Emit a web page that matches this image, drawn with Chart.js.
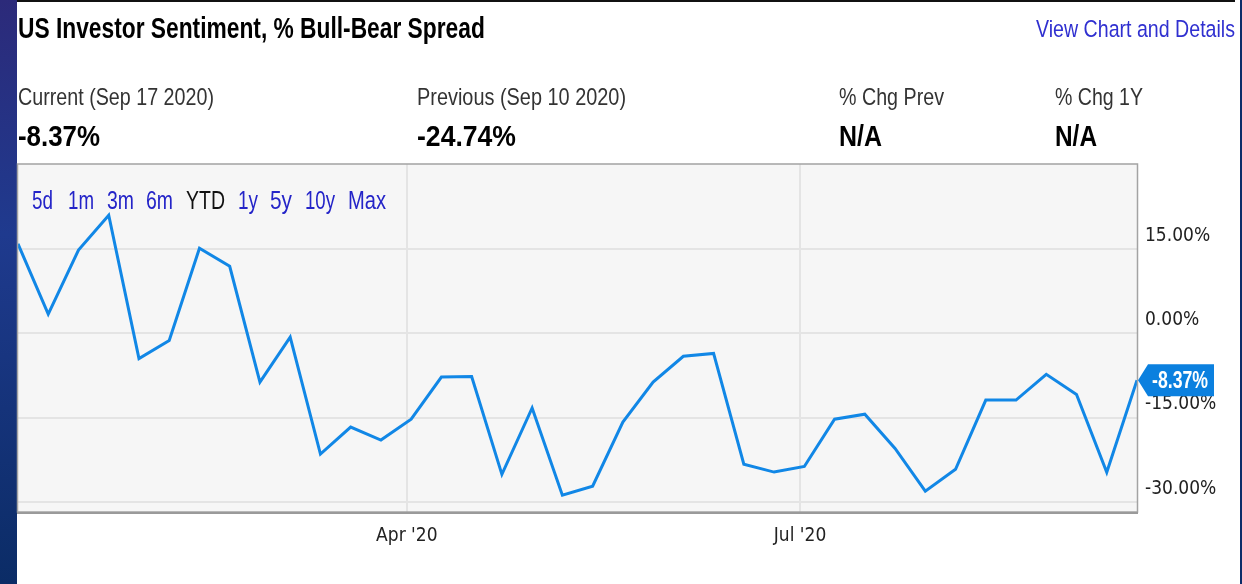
<!DOCTYPE html>
<html>
<head>
<meta charset="utf-8">
<script src="https://cdn.jsdelivr.net/npm/chart.js@4.4.1/dist/chart.umd.min.js"></script>
<style>
  html, body { margin: 0; padding: 0; background: #fff; }
  body { width: 1242px; height: 584px; position: relative; overflow: hidden; font-family: 'Liberation Sans', Arial, sans-serif; }
  #strip { position: absolute; left: 0; top: 0; width: 17px; height: 584px; background: linear-gradient(#2c2a7a, #1f3a8e 40%, #0b2c66); }
  #topline { position: absolute; left: 17px; top: 0; width: 1218px; height: 2px; background: #111; }
  #rightline { position: absolute; left: 1240px; top: 0; width: 2px; height: 584px; background: #0c2d69; }
  #chart { position: absolute; left: 0; top: 0; }
  .t { position: absolute; white-space: nowrap; line-height: 1; transform-origin: 0 0; z-index: 2; }
  .lbl { font-size: 24.5px; color: #333; }
  .val { font-size: 30px; font-weight: bold; color: #000; }
  .btn { font-size: 26px; color: #2424c8; }
</style>
</head>
<body>
<div id="strip"></div>
<div id="topline"></div>
<div id="rightline"></div>
<canvas id="chart" width="1242" height="584"></canvas>

<div class="t" style="left:18px;top:14px;font-size:29px;font-weight:bold;color:#000" data-w="467">US Investor Sentiment, % Bull-Bear Spread</div>
<div class="t" style="left:1036px;top:17px;font-size:24.5px;color:#3030d0" data-w="199">View Chart and Details</div>

<div class="t lbl" style="left:18px;top:85px" data-w="196">Current (Sep 17 2020)</div>
<div class="t val" style="left:18px;top:121px" data-w="82">-8.37%</div>
<div class="t lbl" style="left:417px;top:85px" data-w="209">Previous (Sep 10 2020)</div>
<div class="t val" style="left:417px;top:121px" data-w="99">-24.74%</div>
<div class="t lbl" style="left:839px;top:85px" data-w="105">% Chg Prev</div>
<div class="t val" style="left:839px;top:121px" data-w="43">N/A</div>
<div class="t lbl" style="left:1055px;top:85px" data-w="88">% Chg 1Y</div>
<div class="t val" style="left:1055px;top:121px" data-w="42">N/A</div>

<div class="t btn" style="left:32px;top:187px" data-w="21">5d</div>
<div class="t btn" style="left:68px;top:187px" data-w="26">1m</div>
<div class="t btn" style="left:107px;top:187px" data-w="27">3m</div>
<div class="t btn" style="left:146px;top:187px" data-w="27">6m</div>
<div class="t btn" style="left:186px;top:187px;color:#111" data-w="39">YTD</div>
<div class="t btn" style="left:238px;top:187px" data-w="20">1y</div>
<div class="t btn" style="left:270px;top:187px" data-w="22">5y</div>
<div class="t btn" style="left:305px;top:187px" data-w="30">10y</div>
<div class="t btn" style="left:348px;top:187px" data-w="38">Max</div>

<script>
// weekly AAII readings (Thursdays), Jan 2 - Sep 17 2020
const dates = [
  '2020-01-02', '2020-01-09', '2020-01-16', '2020-01-23', '2020-01-30',
  '2020-02-06', '2020-02-13', '2020-02-20', '2020-02-27',
  '2020-03-05', '2020-03-12', '2020-03-19', '2020-03-26',
  '2020-04-02', '2020-04-09', '2020-04-16', '2020-04-23', '2020-04-30',
  '2020-05-07', '2020-05-14', '2020-05-21', '2020-05-28',
  '2020-06-04', '2020-06-11', '2020-06-18', '2020-06-25',
  '2020-07-02', '2020-07-09', '2020-07-16', '2020-07-23', '2020-07-30',
  '2020-08-06', '2020-08-13', '2020-08-20', '2020-08-27',
  '2020-09-03', '2020-09-10', '2020-09-17'
];
const spreadValues = [
  15.9, 3.4, 14.8, 21.0, -4.5,
  -1.3, 15.1, 11.9, -8.7,
  -0.7, -21.5, -16.7, -19.0,
  -15.3, -7.8, -7.7, -25.1, -13.3,
  -28.8, -27.2, -15.8, -8.7,
  -4.1, -3.6, -23.3, -24.7,
  -23.7, -15.3, -14.4, -20.5, -28.1,
  -24.2, -11.9, -11.9, -7.3,
  -10.9, -24.74, -8.37
];
const yTickValues = [-30, -15, 0, 15];
const xTickDates = ['2020-04-01', '2020-07-01'];
const xTickLabels = ["Apr '20", "Jul '20"];

const LINE_BLUE = '#1187e6';
const TICK_FONT = "'DejaVu Sans Condensed', 'Liberation Sans', Arial, sans-serif";

// squeeze header texts to the narrow look of the screenshot
document.querySelectorAll('.t[data-w]').forEach(el => {
  const w = el.getBoundingClientRect().width;
  el.style.transform = `scaleX(${(+el.dataset.w / w).toFixed(3)})`;
});

const dayOf = s => (Date.parse(s) - Date.parse('2020-01-01')) / 86400000;
const points = dates.map((d, i) => ({ x: dayOf(d), y: spreadValues[i] }));

const plotBackground = {
  id: 'plotBackground',
  beforeDraw(chart) {
    const { ctx, chartArea: a } = chart;
    ctx.save();
    ctx.fillStyle = '#f6f6f6';
    ctx.fillRect(a.left, a.top, a.right - a.left, a.bottom - a.top);
    ctx.restore();
  }
};

const plotFrame = {
  id: 'plotFrame',
  afterDraw(chart) {
    const { ctx, chartArea: a } = chart;
    ctx.save();
    ctx.strokeStyle = '#a3a3a3';
    ctx.lineWidth = 1.5;
    ctx.strokeRect(a.left - 0.5, a.top, a.right - a.left + 1, a.bottom - a.top);
    ctx.strokeStyle = '#9a9a9a';
    ctx.lineWidth = 2;
    ctx.beginPath();
    ctx.moveTo(a.left - 1, a.bottom + 1);
    ctx.lineTo(a.right + 1, a.bottom + 1);
    ctx.stroke();
    ctx.restore();
  }
};

// blue flag with the latest reading on the value axis
const lastValueTag = {
  id: 'lastValueTag',
  afterDraw(chart) {
    const { ctx, chartArea: a } = chart;
    const last = spreadValues[spreadValues.length - 1];
    const y = chart.scales.y.getPixelForValue(last);
    const x = a.right + 1;
    ctx.save();
    ctx.fillStyle = '#0b80df';
    ctx.beginPath();
    ctx.moveTo(x, y);
    ctx.lineTo(x + 10, y - 16);
    ctx.lineTo(x + 76, y - 16);
    ctx.lineTo(x + 76, y + 16);
    ctx.lineTo(x + 10, y + 16);
    ctx.closePath();
    ctx.fill();
    ctx.fillStyle = '#fff';
    ctx.font = "bold 23px 'Liberation Sans', Arial, sans-serif";
    ctx.textBaseline = 'middle';
    const txt = last.toFixed(2) + '%';
    const w = ctx.measureText(txt).width;
    ctx.translate(x + 14, y + 1);
    ctx.scale(56 / w, 1);
    ctx.fillText(txt, 0, 0);
    ctx.restore();
  }
};

new Chart(document.getElementById('chart'), {
  type: 'line',
  data: {
    datasets: [{
      data: points,
      borderColor: LINE_BLUE,
      borderWidth: 3,
      pointRadius: 0,
      tension: 0,
      fill: false
    }]
  },
  options: {
    responsive: false,
    animation: false,
    devicePixelRatio: 1,
    layout: { padding: { left: 18, top: 164, right: 0, bottom: 0 } },
    plugins: { legend: { display: false }, tooltip: { enabled: false } },
    scales: {
      x: {
        type: 'linear',
        min: dayOf(dates[0]),
        max: dayOf(dates[dates.length - 1]),
        afterBuildTicks: s => { s.ticks = xTickDates.map(d => ({ value: dayOf(d) })); },
        afterFit: s => { s.height = 72; },
        border: { display: false },
        grid: { color: '#e4e4e4', lineWidth: 2, drawTicks: false },
        ticks: {
          autoSkip: false,
          maxRotation: 0,
          padding: 13,
          color: '#222',
          font: { family: TICK_FONT, size: 19 },
          callback: (v, i) => xTickLabels[i]
        }
      },
      y: {
        position: 'right',
        min: -31.8,
        max: 30.1,
        afterBuildTicks: s => { s.ticks = yTickValues.map(v => ({ value: v })); },
        afterFit: s => { s.width = 105; },
        border: { display: false },
        grid: { color: '#e4e4e4', lineWidth: 2, drawTicks: false },
        ticks: {
          padding: 8,
          labelOffset: -13,
          color: '#222',
          font: { family: TICK_FONT, size: 19 },
          callback: v => v.toFixed(2) + '%'
        }
      }
    }
  },
  plugins: [plotBackground, plotFrame, lastValueTag]
});
</script>
</body>
</html>
